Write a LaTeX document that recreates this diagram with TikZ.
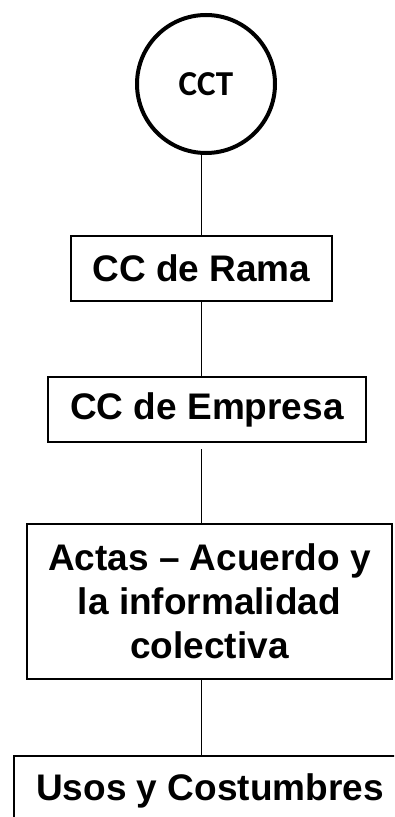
\documentclass[tikz,border=0pt]{standalone}
\usepackage{fontspec}
\setmainfont{Liberation Sans}
\newfontfamily\cctfont{Carlito}
\usetikzlibrary{positioning,calc}
\tikzstyle{ring}=[circle,draw,line width=3pt,minimum size=103.5pt,inner sep=0pt,font=\cctfont\bfseries\fontsize{26.25}{30}\selectfont]
\tikzstyle{link}=[line width=1.2pt]
\tikzset{nd/.style={rectangle,draw,line width=1.5pt,align=center,inner sep=0pt,font=\bfseries\fontsize{27.75}{33}\selectfont}}

\begin{document}
\begin{tikzpicture}[x=0.75pt,y=-0.75pt]

  \clip (0,0) rectangle (394,817);

  \node[ring] (cct) at (206,84) {CCT};

  \node[nd,minimum width=195.75pt,minimum height=48.75pt] (rama) at (201.5,268.5) {CC de Rama};
  \node[nd,minimum width=238.5pt,minimum height=48.75pt] (empresa) at (207,409.5) {CC de Empresa};
  \node[nd,minimum width=273.75pt,minimum height=116.25pt] (actas) at (209.5,601.5)
       {Actas -- Acuerdo y\\ la informalidad\\ colectiva};
  \node[nd,minimum width=294pt,minimum height=52.5pt,anchor=north west] (usos) at (13,755) {Usos y Costumbres};

  % spine of the chart, one x for all links
  \foreach \a/\b/\gap in {cct/rama/0, rama/empresa/0, empresa/actas/4.5, actas/usos/0}
         \draw[link, shorten <=\gap pt] (\a.south -| rama.south) -- (\b.north -| rama.south);

\end{tikzpicture}
\end{document}
